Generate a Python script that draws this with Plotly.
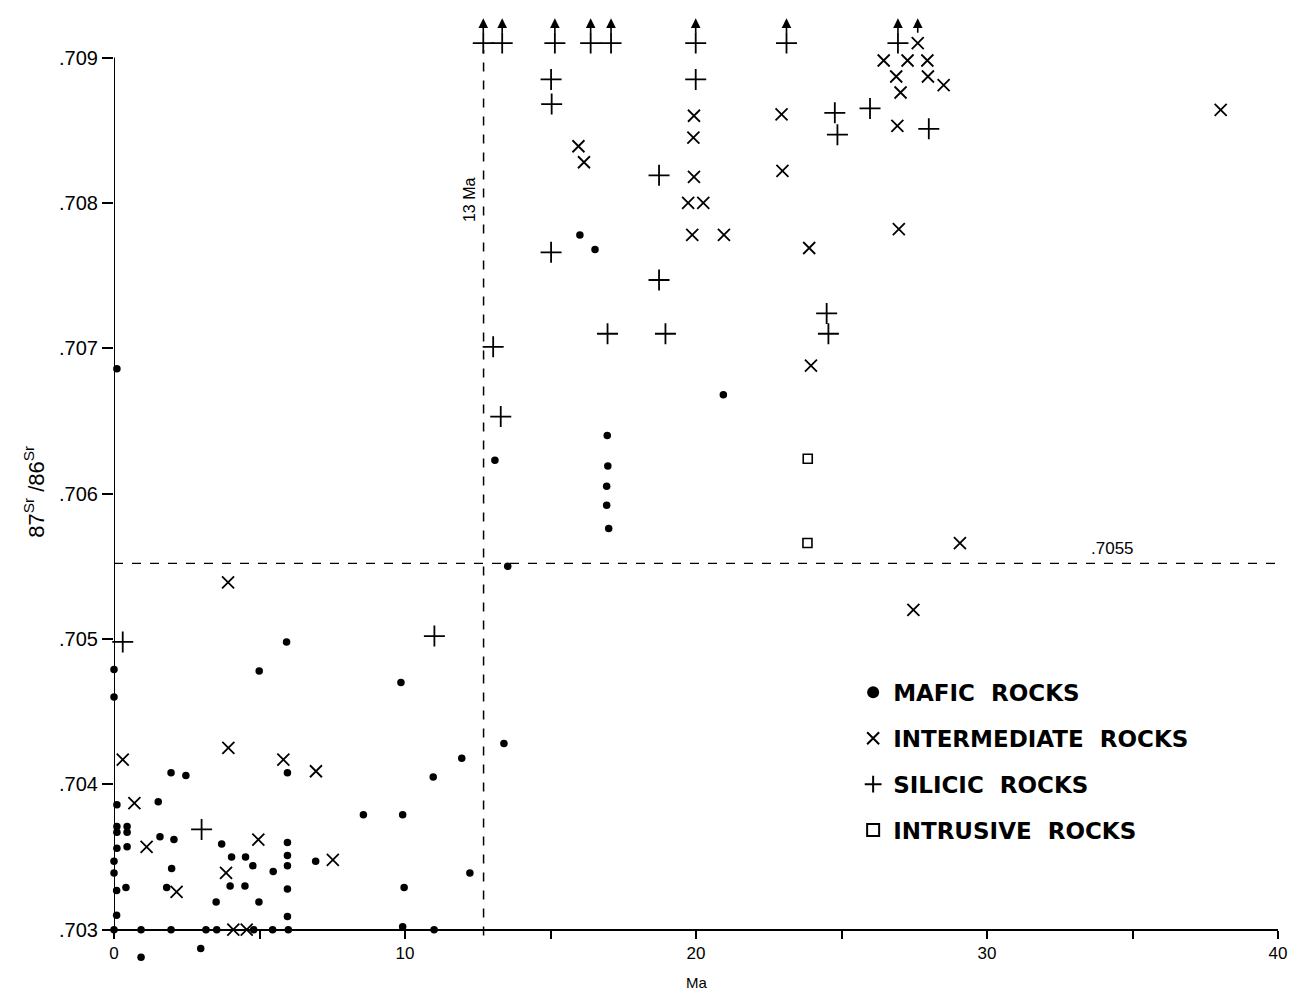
import plotly.graph_objects as go

# ---- data (Ma, 87Sr/86Sr) ----
mafic_x = [0.1, 0.0, 0.0, 0.1, 0.1, 0.45, 0.1, 0.45, 0.1, 0.45, 0.0, 0.0, 0.09, 0.41, 0.09, 0.0,
           0.93, 0.93, 1.52, 1.58, 1.96, 2.06, 1.98, 1.81, 1.96, 2.47, 2.98, 3.16, 3.53, 3.51,
           3.70, 3.99, 4.04, 4.52, 4.50, 4.77, 4.80, 4.98, 4.99, 5.45, 5.47, 5.93, 5.96, 5.96,
           5.96, 5.96, 5.96, 5.96, 5.99, 6.93, 8.57, 9.86, 9.92, 9.97, 9.92, 11.0, 10.97, 11.95,
           12.23, 13.09, 13.53, 13.40, 16.01, 16.53, 16.95, 16.97, 16.93, 16.93, 17.0, 20.94]
mafic_y = [0.70686, 0.70479, 0.70460, 0.70386, 0.70371, 0.70371, 0.70367, 0.70367, 0.70356, 0.70357,
           0.70347, 0.70339, 0.70327, 0.70329, 0.70310, 0.70300,
           0.70300, 0.70281, 0.70388, 0.70364, 0.70408, 0.70362, 0.70342, 0.70329, 0.70300, 0.70406,
           0.70287, 0.70300, 0.70300, 0.70319, 0.70359, 0.70330, 0.70350, 0.70350, 0.70330, 0.70344,
           0.70300, 0.70319, 0.70478, 0.70300, 0.70340, 0.70498, 0.70408, 0.70360, 0.70351, 0.70344,
           0.70328, 0.70309, 0.70300, 0.70347, 0.70379, 0.70470, 0.70379, 0.70329, 0.70302, 0.70300,
           0.70405, 0.70418, 0.70339, 0.70623, 0.70550, 0.70428, 0.70778, 0.70768, 0.70640, 0.70619,
           0.70605, 0.70592, 0.70576, 0.70668]

inter_x = [0.30, 0.70, 1.12, 2.15, 3.92, 3.93, 3.85, 4.10, 4.56, 4.96, 5.82, 6.94, 7.52,
           15.96, 16.15, 19.93, 19.91, 19.93, 19.73, 20.25, 19.87, 20.96, 22.94, 22.97, 23.89,
           23.95, 26.92, 26.97, 26.45, 27.27, 26.88, 27.03, 27.62, 27.95, 27.97, 28.51, 38.03,
           29.07, 27.47]
inter_y = [0.70417, 0.70387, 0.70357, 0.70326, 0.70539, 0.70425, 0.70339, 0.70300, 0.70300,
           0.70362, 0.70417, 0.70409, 0.70348,
           0.70839, 0.70828, 0.70860, 0.70845, 0.70818, 0.70800, 0.70800, 0.70778, 0.70778,
           0.70861, 0.70822, 0.70769, 0.70688, 0.70853, 0.70782, 0.70898, 0.70898, 0.70887,
           0.70876, 0.70910, 0.70898, 0.70887, 0.70881, 0.70864, 0.70566, 0.70520]

silicic_x = [0.30, 11.01, 3.01, 13.03, 13.29, 16.96, 18.95, 24.49, 24.55, 15.02, 15.04, 19.99,
             24.77, 24.86, 25.98, 28.0, 18.73, 15.02, 18.73,
             12.69, 13.34, 15.15, 16.38, 17.08, 19.99, 23.11, 26.94]
silicic_y = [0.70498, 0.70502, 0.70369, 0.70701, 0.70653, 0.70710, 0.70710, 0.70724, 0.70710,
             0.70885, 0.70868, 0.70885, 0.70862, 0.70847, 0.70865, 0.70851, 0.70819, 0.70766,
             0.70747,
             0.70910, 0.70910, 0.70910, 0.70910, 0.70910, 0.70910, 0.70910, 0.70910]

intrusive_x = [23.84, 23.83]
intrusive_y = [0.70624, 0.70566]

# values above plot limit (arrows)
arrow_x = [12.69, 13.34, 15.15, 16.38, 17.08, 19.99, 23.11, 26.94, 27.62]
arrow_tail = 0.70916
arrow_head = 0.70927

age_line = 12.7
sr_line = 0.70552

x_ticks = [0, 5, 10, 15, 20, 25, 30, 35, 40]
x_ticktext = ["0", "", "10", "", "20", "", "30", "", "40"]
y_ticks = [0.703, 0.704, 0.705, 0.706, 0.707, 0.708, 0.709]
y_ticktext = [".703", ".704", ".705", ".706", ".707", ".708", ".709"]

Y_MIN, Y_MAX = 0.70275, 0.70930
Y_AXIS_LO, Y_AXIS_HI = 0.703, 0.709

FONT = "Liberation Sans, Arial, sans-serif"
LEGFONT = "DejaVu Sans, Verdana, sans-serif"

fig = go.Figure()
fig.add_trace(go.Scatter(x=mafic_x, y=mafic_y, mode="markers", name="MAFIC  ROCKS",
                         legendgroup="a",
                         marker=dict(symbol="circle", size=7.5, color="black"), cliponaxis=False))
fig.add_trace(go.Scatter(x=inter_x, y=inter_y, mode="markers", name="INTERMEDIATE  ROCKS",
                         legendgroup="b",
                         marker=dict(symbol="x-thin-open", size=12, color="black",
                                     line=dict(width=1.8, color="black")), cliponaxis=False))
fig.add_trace(go.Scatter(x=silicic_x, y=silicic_y, mode="markers", name="SILICIC  ROCKS",
                         legendgroup="c",
                         marker=dict(symbol="cross-thin-open", size=15, color="black",
                                     line=dict(width=1.8, color="black")), cliponaxis=False))
fig.add_trace(go.Scatter(x=intrusive_x, y=intrusive_y, mode="markers", name="INTRUSIVE  ROCKS",
                         legendgroup="d",
                         marker=dict(symbol="square-open", size=9, color="black",
                                     line=dict(width=1.6, color="black")), cliponaxis=False))

# y axis line (only between .703 and .709)
fig.add_shape(type="line", x0=0, x1=0, y0=Y_AXIS_LO, y1=Y_AXIS_HI,
              line=dict(color="black", width=2))
# reference lines
fig.add_shape(type="line", x0=age_line, x1=age_line, y0=0.70296, y1=0.70905,
              line=dict(color="black", width=1.5, dash="dash"))
fig.add_shape(type="line", x0=0, x1=40, y0=sr_line, y1=sr_line,
              line=dict(color="black", width=1.3, dash="dash"))

# arrows above off-scale values
for ax_ in arrow_x:
    fig.add_annotation(x=ax_, y=arrow_head, ax=ax_, ay=arrow_tail, xref="x", yref="y",
                       axref="x", ayref="y", showarrow=True, arrowhead=2, arrowsize=1.2,
                       arrowwidth=1.6, arrowcolor="black", text="")

fig.add_annotation(x=12.2, y=0.70802, text="13 Ma", textangle=-90, showarrow=False,
                   font=dict(family=FONT, size=16, color="black"))
fig.add_annotation(x=34.3, y=0.70562, text=".7055", showarrow=False,
                   font=dict(family=FONT, size=17, color="black"))
# axis titles
fig.add_annotation(x=20, y=0, xref="x", yref="paper", yanchor="top", yshift=-6,
                   text="Ma", showarrow=False,
                   font=dict(family=FONT, size=15, color="black"))
fig.add_annotation(x=-0.082, y=0.70601, xref="paper", yref="y",
                   text="87<sup>Sr</sup> /86<sup>Sr</sup>",
                   textangle=-90, showarrow=False,
                   font=dict(family=FONT, size=22, color="black"))

x_pos = (Y_AXIS_LO - Y_MIN) / (Y_MAX - Y_MIN)

fig.update_xaxes(range=[0, 40], tickvals=x_ticks, ticktext=x_ticktext, ticks="outside",
                 ticklen=8, tickwidth=1.5, tickcolor="black", showline=True, linecolor="black",
                 linewidth=2, showgrid=False, zeroline=False, anchor="free", position=x_pos,
                 automargin=False,
                 tickfont=dict(family=FONT, size=17, color="black"))
fig.update_yaxes(range=[Y_MIN, Y_MAX], tickvals=y_ticks, ticktext=y_ticktext, ticks="outside",
                 ticklen=11, tickwidth=1.5, tickcolor="black", showline=False,
                 showgrid=False, zeroline=False, automargin=False,
                 tickfont=dict(family=FONT, size=20, color="black"))

fig.update_layout(
    width=1295, height=993,
    margin=dict(l=114, r=17, t=14, b=27),
    paper_bgcolor="white", plot_bgcolor="white",
    showlegend=True,
    hovermode=False,
    legend=dict(x=0.635, y=0.31, xanchor="left", yanchor="top", bgcolor="rgba(0,0,0,0)",
                font=dict(family=LEGFONT, size=23, color="black", weight="bold"),
                tracegroupgap=13, itemsizing="constant"),
)

fig.write_html("out.html", config={"displayModeBar": False},
               post_script="document.body.style.margin='0';document.body.style.overflow='hidden';")
